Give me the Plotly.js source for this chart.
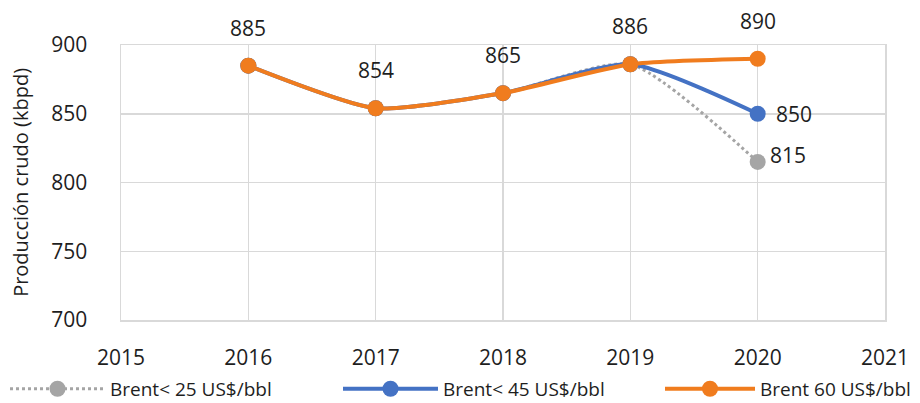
<!DOCTYPE html>
<html>
<head>
<meta charset="utf-8">
<script src="https://cdn.plot.ly/plotly-3.0.1.min.js"></script>
<style>html,body{margin:0;padding:0;background:#fff;}#chart{width:920px;height:403px;}</style>
</head>
<body>
<div id="chart"></div>
<script>
const years = [2016, 2017, 2018, 2019, 2020];
const brent25 = [885, 854, 865, 886, 815];
const brent45 = [885, 854, 865, 886, 850];
const brent60 = [885, 854, 865, 886, 890];
const seriesNames = ["Brent< 25 US$/bbl", "Brent< 45 US$/bbl", "Brent 60 US$/bbl"];
const xTicks = [2015, 2016, 2017, 2018, 2019, 2020, 2021];
const yTicks = [700, 750, 800, 850, 900];

const FONT = "Open Sans, Liberation Sans, sans-serif";
const TXT = "#1e1e1e";

const traces = [
  {x: years, y: brent25, name: seriesNames[0], mode: "lines+markers", legend: "legend",
   line: {color: "#a5a5a5", width: 3, dash: "dot", shape: "spline", smoothing: 0.6},
   marker: {color: "#a5a5a5", size: 16}},
  {x: years, y: brent45, name: seriesNames[1], mode: "lines+markers", legend: "legend2",
   line: {color: "#4472c4", width: 4, shape: "spline", smoothing: 0.6},
   marker: {color: "#4472c4", size: 16}},
  {x: years, y: brent60, name: seriesNames[2], mode: "lines+markers", legend: "legend3",
   line: {color: "#f07c1e", width: 4, shape: "spline", smoothing: 0.6},
   marker: {color: "#f07c1e", size: 16}}
];

const annotations = [];
years.forEach((yr, i) => {
  annotations.push({x: yr, y: brent60[i], text: String(brent60[i]), showarrow: false,
    yshift: 38, font: {family: FONT, size: 21, color: TXT}});
});
const last = years.length - 1;
annotations.push({x: years[last], y: brent45[last], text: String(brent45[last]), showarrow: false,
  xshift: 36, yshift: 0, font: {family: FONT, size: 21, color: TXT}});
annotations.push({x: years[last], y: brent25[last], text: String(brent25[last]), showarrow: false,
  xshift: 30, yshift: 7, font: {family: FONT, size: 21, color: TXT}});

function legendAt(px, iw) {
  return {orientation: "h", xref: "container", yref: "container", x: px / 920, xanchor: "left",
    y: 0.035, yanchor: "middle", bgcolor: "rgba(0,0,0,0)",
    font: {family: FONT, size: 19, color: TXT}, itemwidth: iw, tracegroupgap: 0};
}

const layout = {
  width: 920, height: 403,
  margin: {l: 121, r: 35, t: 45, b: 83, autoexpand: false},
  paper_bgcolor: "#ffffff", plot_bgcolor: "#ffffff",
  font: {family: FONT, size: 21, color: TXT},
  showlegend: true,
  legend: legendAt(5, 95),
  legend2: legendAt(338, 95),
  legend3: legendAt(660, 90),
  xaxis: {range: [2015, 2021], tickvals: xTicks, ticktext: xTicks.map(String),
    showgrid: true, gridcolor: "#d9d9d9", gridwidth: 1.5, zeroline: false,
    showline: true, linecolor: "#d9d9d9", linewidth: 1.5, mirror: true,
    ticks: "", ticklabelstandoff: 18, tickfont: {family: FONT, size: 21, color: TXT}},
  yaxis: {range: [700, 900], tickvals: yTicks, ticktext: yTicks.map(String),
    showgrid: true, gridcolor: "#d9d9d9", gridwidth: 1.5, zeroline: false,
    showline: true, linecolor: "#d9d9d9", linewidth: 1.5, mirror: true,
    ticks: "", ticklabelstandoff: 28, tickfont: {family: FONT, size: 21, color: TXT}},
  annotations: annotations.concat([{
    xref: "paper", yref: "paper", x: -0.152, y: 0.5, textangle: -90, showarrow: false,
    text: "Producción crudo (kbpd)", font: {family: FONT, size: 20, color: TXT}}])
};

Plotly.newPlot("chart", traces, layout, {displayModeBar: false, staticPlot: true});
</script>
</body>
</html>
